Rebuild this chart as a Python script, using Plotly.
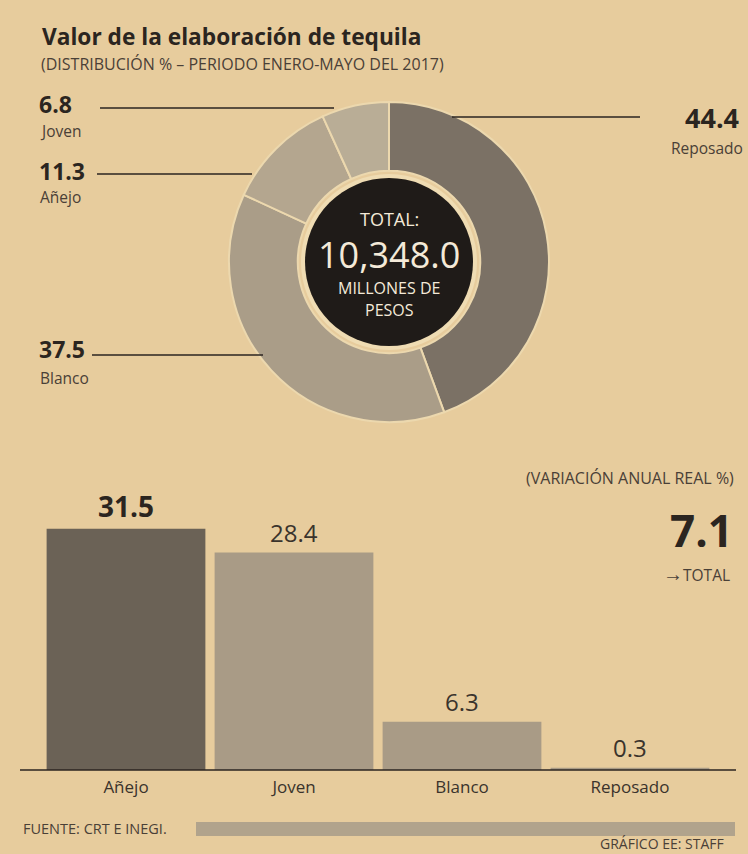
import plotly.graph_objects as go

# ---------------- data ----------------
donut_labels = ["Reposado", "Blanco", "Añejo", "Joven"]
donut_values = [44.4, 37.5, 11.3, 6.8]

bar_categories = ["Añejo", "Joven", "Blanco", "Reposado"]
bar_values = [31.5, 28.4, 6.3, 0.3]

total_value = "10,348.0"
total_variation = 7.1

title_text = "Valor de la elaboración de tequila"
subtitle_text = "(DISTRIBUCIÓN % – PERIODO ENERO-MAYO DEL 2017)"

# ---------------- style ----------------
W, H = 748, 854
BG = "#e7cc9d"
INK = "#2b2520"
SOFT = "#4a4037"
FONT = "Open Sans"
donut_colors = ["#7b7165", "#aa9d88", "#b4a68f", "#b9ad96"]
bar_colors = ["#6b6256", "#a99b86", "#a99b86", "#a99b86"]


def px(x):
    return x / W


def py(y):
    return 1 - y / H


fig = go.Figure()

# donut
cx, cy, R = 389, 262, 160
fig.add_trace(go.Pie(
    labels=donut_labels, values=donut_values, sort=False, direction="clockwise",
    rotation=0, hole=0.57, textinfo="none", hoverinfo="label+value",
    marker=dict(colors=donut_colors, line=dict(color="#ecd8ae", width=2)),
    domain=dict(x=[px(cx - R), px(cx + R)], y=[py(cy + R), py(cy - R)]),
    showlegend=False,
))

# bars
fig.add_trace(go.Bar(
    x=bar_categories, y=bar_values, marker=dict(color=bar_colors, line=dict(width=0)),
    showlegend=False, hoverinfo="x+y",
))

annotations = []
shapes = []


def txt(x, y, text, size, color=INK, anchor="left"):
    annotations.append(dict(x=px(x), y=py(y), xref="paper", yref="paper", xanchor=anchor, yanchor="middle",
                            text=text, showarrow=False, font=dict(family=FONT, size=size, color=color)))


# title / subtitle
txt(40, 36, f"<b>{title_text}</b>", 22.7)
txt(39, 64, subtitle_text, 16, SOFT)

# center circle
shapes.append(dict(type="circle", xref="paper", yref="paper",
                   x0=px(cx - 88), x1=px(cx + 88), y0=py(cy + 88), y1=py(cy - 88),
                   fillcolor="#efdcb3", line=dict(width=0), layer="above"))
shapes.append(dict(type="circle", xref="paper", yref="paper",
                   x0=px(cx - 84), x1=px(cx + 84), y0=py(cy + 84), y1=py(cy - 84),
                   fillcolor="#1f1b18", line=dict(width=0), layer="above"))

for t, y, size in [("TOTAL:", 219, 18), (total_value, 254, 36), ("MILLONES DE", 288, 16), ("PESOS", 310, 16)]:
    txt(cx, y, t, size, "#f4ead8", "center")

# leader labels for donut
vals = dict(zip(donut_labels, donut_values))
leaders = [
    ("Joven", 104, 131, 100, 334, 108),
    ("Añejo", 171, 197, 97, 252, 174),
    ("Blanco", 349, 378, 92, 263, 355),
]
for name, vy, ny, lx0, lx1, ly in leaders:
    txt(37, vy, f"<b>{vals[name]}</b>", 23)
    txt(38, ny, name, 15.5, SOFT)
    shapes.append(dict(type="line", xref="paper", yref="paper", x0=px(lx0), x1=px(lx1), y0=py(ly), y1=py(ly),
                       line=dict(color=INK, width=1.3), layer="above"))

# Reposado on the right
txt(741, 117, f"<b>{vals['Reposado']}</b>", 27, INK, "right")
txt(745, 148, "Reposado", 15.5, SOFT, "right")
shapes.append(dict(type="line", xref="paper", yref="paper", x0=px(452), x1=px(640), y0=py(117), y1=py(117),
                   line=dict(color=INK, width=1.3), layer="above"))

# bar value labels
for i, (c, v) in enumerate(zip(bar_categories, bar_values)):
    annotations.append(dict(x=c, y=v, xref="x", yref="y", yanchor="bottom", yshift=2,
                            text=(f"<b>{v}</b>" if i == 0 else f"{v}"), showarrow=False,
                            font=dict(family=FONT, size=28 if i == 0 else 24,
                                      color=INK if i == 0 else "#3a332c")))

# variation text
txt(736, 478, "(VARIACIÓN ANUAL REAL %)", 16, SOFT, "right")
txt(735, 530, f"<b>{total_variation}</b>", 44, INK, "right")
txt(732, 573, "<span style='font-size:20px'>→</span>TOTAL", 15.5, SOFT, "right")

# baseline
shapes.append(dict(type="line", xref="paper", yref="paper", x0=px(20), x1=px(736), y0=py(770), y1=py(770),
                   line=dict(color=INK, width=1.5), layer="above"))

# footer
shapes.append(dict(type="rect", xref="paper", yref="paper", x0=px(196), x1=px(735), y0=py(836), y1=py(822),
                   fillcolor="#b1a38c", line=dict(width=0), layer="below"))
txt(21, 828, "FUENTE: CRT E INEGI.", 14.5, SOFT)
txt(726, 843, "GRÁFICO EE: STAFF", 14, SOFT, "right")

fig.update_layout(
    width=W, height=H, margin=dict(l=0, r=0, t=0, b=0),
    paper_bgcolor=BG, plot_bgcolor="rgba(0,0,0,0)",
    bargap=0.055, showlegend=False,
    xaxis=dict(domain=[px(42), px(714)], showgrid=False, zeroline=False, showline=False,
               ticks="", ticklabelstandoff=5,
               tickfont=dict(family=FONT, size=17, color="#3a332c"), fixedrange=True),
    yaxis=dict(domain=[py(770), py(502)], range=[0, 35], visible=False, fixedrange=True),
    annotations=annotations, shapes=shapes,
    font=dict(family=FONT),
)

fig.write_html(
    "out.html",
    config={"displayModeBar": False},
    post_script="document.body.style.margin='0';document.body.style.overflow='hidden';",
)
